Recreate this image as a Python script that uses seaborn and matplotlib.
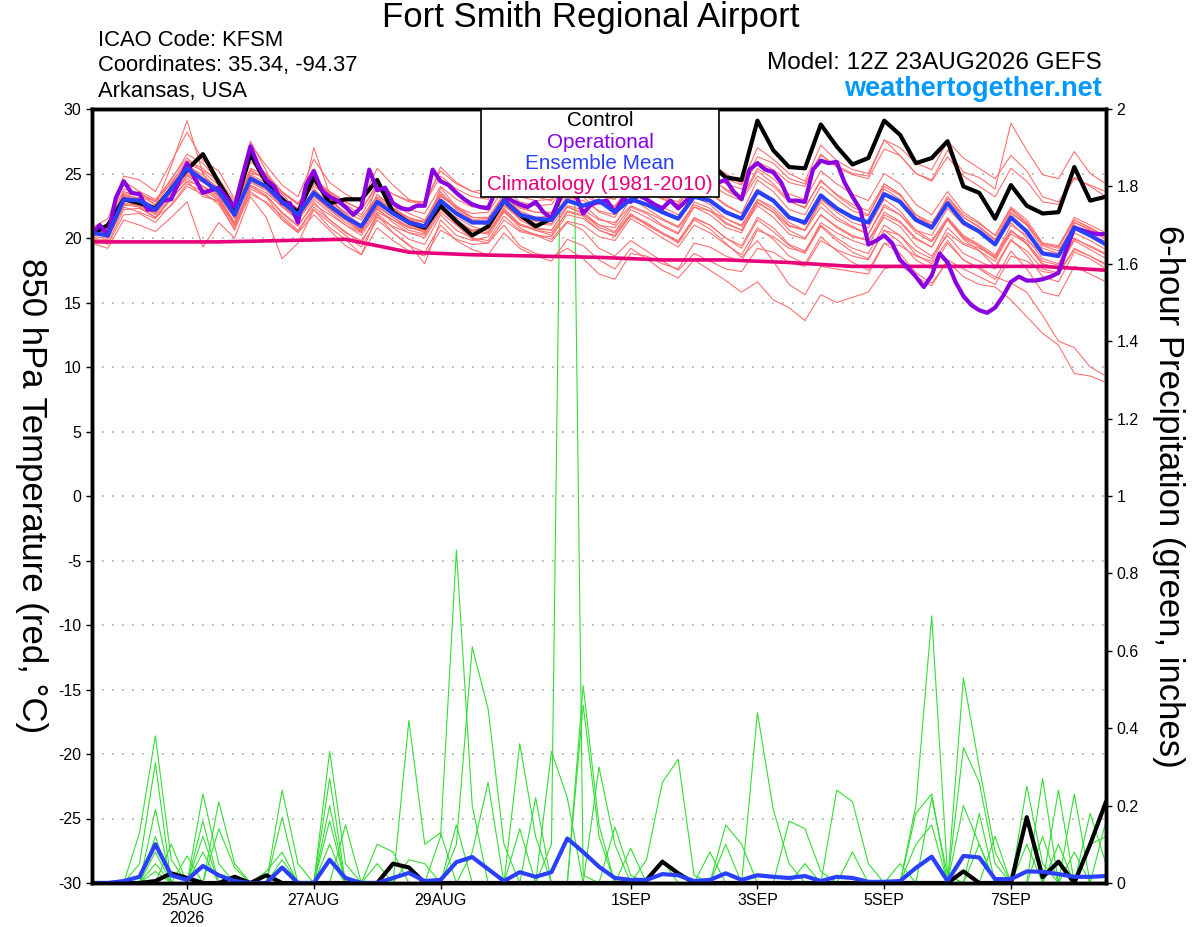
import numpy as np
import pandas as pd
import matplotlib
matplotlib.use('Agg')
import matplotlib.pyplot as plt
import seaborn as sns
from matplotlib.patches import Rectangle

# GEFS 12Z 23AUG2026, 6-hourly steps out to 384 h
run_start = pd.Timestamp('2026-08-23 12:00')

# ensemble mean 850 hPa temperature (C)
mean_temp = [
    20.4, 20.2, 23.0, 22.9, 22.2, 23.8, 25.4, 24.5,
    23.6, 21.8, 24.6, 24.0, 22.8, 21.8, 23.5, 22.5,
    21.6, 20.9, 22.8, 21.9, 21.2, 20.9, 22.9, 21.9,
    21.2, 21.2, 22.9, 21.8, 21.5, 21.4, 22.9, 22.5,
    22.9, 22.0, 23.0, 22.6, 22.0, 21.5, 23.2, 22.9,
    22.0, 21.5, 23.6, 22.9, 21.6, 21.2, 23.3, 22.3,
    21.6, 21.2, 23.4, 22.8, 21.4, 20.8, 22.7, 21.2,
    20.5, 19.5, 21.6, 20.5, 18.8, 18.6, 20.8, 20.2,
    19.5]

control_temp = [
    20.3, 21.0, 23.0, 22.7, 22.3, 23.8, 25.3, 26.5,
    24.3, 22.3, 26.5, 24.3, 23.0, 22.0, 24.7, 22.7,
    23.0, 23.0, 24.5, 22.0, 21.2, 20.8, 22.5, 21.3,
    20.2, 20.9, 22.9, 21.8, 20.9, 21.5, 24.5, 25.5,
    24.0, 25.0, 26.0, 24.8, 25.5, 26.5, 25.0, 25.8,
    24.7, 24.5, 29.1, 26.8, 25.5, 25.4, 28.8, 27.1,
    25.7, 26.2, 29.1, 28.0, 25.8, 26.2, 27.5, 24.0,
    23.5, 21.5, 24.1, 22.5, 21.9, 22.0, 25.5, 22.9,
    23.2]

# operational GFS is 3-hourly
oper_temp = [
    20.4, 21.0, 20.2, 23.1, 24.4, 23.5, 23.4, 22.2,
    22.2, 22.9, 23.0, 24.4, 25.8, 24.6, 23.5, 23.7,
    23.9, 23.1, 22.4, 24.8, 27.1, 25.6, 24.5, 24.0,
    22.7, 22.7, 21.2, 24.1, 25.2, 23.7, 23.2, 22.9,
    22.4, 21.8, 22.4, 25.3, 23.7, 23.9, 22.7, 22.3,
    22.2, 22.5, 22.5, 25.3, 24.4, 24.1, 23.5, 23.0,
    22.6, 22.4, 22.3, 23.7, 23.2, 22.9, 22.6, 22.4,
    22.8, 22.0, 21.5, 23.1, 23.8, 23.5, 21.9, 22.6,
    22.8, 22.9, 22.0, 23.0, 22.8, 23.3, 23.0, 22.6,
    22.3, 22.9, 22.3, 22.9, 23.6, 24.0, 24.2, 24.3,
    24.5, 23.6, 23.0, 25.3, 25.8, 25.3, 25.1, 24.3,
    22.9, 22.9, 22.8, 25.3, 26.0, 25.8, 25.9, 24.3,
    23.2, 22.2, 19.5, 19.8, 20.2, 19.6, 18.3, 17.7,
    17.0, 16.2, 17.1, 18.8, 18.1, 16.6, 15.5, 14.8,
    14.4, 14.2, 14.6, 15.5, 16.6, 17.0, 16.7, 16.7,
    16.8, 17.0, 17.3, 19.1, 20.8, 20.6, 20.4, 20.3,
    20.3]

# daily climatology (1981-2010)
clim_temp = [19.7, 19.7, 19.7, 19.8, 19.9, 18.9, 18.7, 18.6, 18.5,
             18.3, 18.3, 18.1, 17.8, 17.8, 17.8, 17.8, 17.5]

# 20 perturbed members, 850 hPa temperature
ens_temp = [
    [20.8, 21.5, 24.8, 24.5, 23.6, 25.9, 28.2, 26.0, 25.2, 23.0, 27.3, 25.6, 24.1, 23.2, 26.1, 24.3,
     23.4, 22.8, 25.4, 24.1, 23.0, 22.5, 25.5, 24.3, 23.6, 23.3, 25.7, 24.6, 23.9, 23.8, 25.6, 25.0,
     24.6, 24.0, 26.3, 25.4, 24.8, 24.0, 26.5, 25.8, 25.0, 24.2, 27.0, 26.1, 25.0, 24.4, 27.2, 26.0,
     25.3, 25.0, 27.6, 26.4, 25.0, 24.5, 26.8, 25.1, 24.7, 23.8, 28.9, 26.8, 24.9, 24.6, 26.7, 25.0, 24.2],
    [19.8, 19.9, 22.4, 22.0, 21.5, 23.1, 24.4, 23.2, 22.9, 20.9, 24.0, 23.3, 21.9, 20.9, 22.8, 21.4,
     20.5, 19.6, 21.9, 20.8, 19.9, 19.5, 21.8, 20.6, 20.0, 19.8, 21.7, 20.6, 20.3, 19.9, 21.3, 21.0,
     20.1, 19.8, 21.5, 20.8, 20.0, 19.3, 21.0, 20.4, 19.5, 18.7, 20.8, 19.9, 18.6, 18.0, 20.1, 19.0,
     18.1, 17.5, 19.6, 18.8, 17.3, 16.5, 18.2, 17.0, 16.4, 16.2, 15.2, 13.9, 12.6, 11.7, 9.5, 9.3, 8.8],
    [20.9, 20.5, 23.5, 23.4, 22.8, 24.6, 26.2, 25.1, 24.1, 22.3, 25.3, 24.6, 23.4, 22.1, 24.2, 23.0,
     21.9, 21.0, 23.4, 22.3, 21.5, 21.3, 23.6, 22.2, 21.3, 21.0, 22.8, 21.4, 20.8, 20.6, 22.4, 21.9,
     20.8, 20.4, 21.9, 21.0, 20.3, 19.7, 21.6, 21.0, 20.0, 19.2, 21.4, 20.5, 19.4, 18.8, 20.9, 19.8,
     18.9, 18.4, 20.6, 19.7, 18.3, 17.6, 19.6, 18.3, 17.7, 17.0, 16.5, 15.8, 14.0, 12.0, 11.5, 10.0, 9.3],
    [20.1, 19.6, 22.2, 22.3, 21.6, 22.5, 24.0, 23.4, 22.8, 20.6, 23.8, 23.2, 21.5, 20.5, 22.2, 21.2,
     20.2, 19.3, 21.4, 20.4, 19.4, 18.9, 21.0, 19.8, 19.1, 18.7, 20.4, 19.2, 18.6, 18.2, 19.9, 19.4,
     18.3, 17.6, 19.2, 18.4, 17.5, 16.9, 18.3, 17.5, 16.7, 15.8, 16.6, 15.2, 14.6, 13.6, 15.6, 15.0,
     15.4, 15.8, 17.6, 17.9, 17.0, 16.3, 18.3, 17.6, 17.0, 16.4, 18.6, 18.2, 17.4, 17.2, 19.1, 18.6, 17.9],
    [20.6, 20.9, 23.8, 23.4, 22.9, 24.5, 26.5, 25.8, 24.4, 22.4, 25.9, 25.0, 23.6, 22.7, 24.4, 23.5,
     22.6, 21.8, 23.8, 22.8, 22.2, 21.9, 24.0, 23.0, 22.4, 22.5, 24.3, 23.2, 22.9, 23.0, 24.8, 24.5,
     23.6, 23.4, 25.2, 24.8, 24.2, 23.8, 25.7, 25.4, 24.6, 24.1, 26.3, 25.8, 24.6, 24.2, 26.5, 25.5,
     24.9, 24.6, 26.9, 26.4, 25.0, 24.4, 26.3, 24.8, 24.0, 23.2, 25.4, 24.4, 22.8, 22.6, 24.6, 24.1, 23.6],
    [20.3, 20.7, 24.4, 23.6, 22.5, 25.6, 29.1, 25.0, 23.1, 21.0, 27.5, 25.2, 22.7, 21.3, 27.0, 23.4,
     21.6, 20.4, 24.3, 22.6, 21.0, 20.6, 23.9, 22.4, 21.4, 21.2, 23.5, 22.0, 21.3, 21.1, 23.4, 22.6,
     21.5, 21.0, 23.1, 22.3, 21.5, 20.9, 22.6, 22.1, 21.1, 20.6, 22.5, 21.6, 20.3, 19.9, 21.8, 20.9,
     20.2, 19.8, 22.0, 21.3, 20.0, 19.3, 21.5, 20.1, 19.4, 18.5, 20.3, 19.6, 18.2, 17.9, 20.0, 19.3, 18.7],
    [19.6, 19.2, 21.4, 21.0, 20.5, 21.6, 22.8, 19.3, 21.2, 20.0, 23.2, 21.6, 18.4, 19.6, 22.2, 20.8,
     19.9, 18.7, 21.8, 20.4, 19.5, 18.0, 21.4, 20.2, 19.8, 20.1, 22.0, 21.0, 20.6, 20.2, 22.1, 21.8,
     21.0, 20.8, 22.4, 21.9, 21.0, 20.4, 22.8, 22.3, 21.2, 20.6, 23.0, 22.4, 21.2, 20.6, 22.8, 21.6,
     20.9, 20.3, 22.6, 21.8, 20.4, 19.7, 21.4, 19.9, 19.0, 17.8, 19.9, 18.7, 17.0, 16.6, 18.9, 18.4, 17.6],
    [20.9, 20.0, 23.2, 23.6, 23.0, 24.2, 25.8, 25.2, 24.6, 22.8, 25.0, 24.8, 23.5, 22.6, 24.0, 23.2,
     22.4, 21.6, 23.2, 22.6, 21.9, 21.4, 23.4, 22.5, 21.6, 21.5, 23.1, 22.1, 21.6, 21.7, 23.6, 23.2,
     22.0, 21.6, 23.6, 23.0, 22.2, 21.4, 23.8, 23.5, 22.6, 21.9, 24.5, 23.6, 22.2, 21.8, 24.0, 23.0,
     22.1, 21.7, 24.2, 23.4, 21.6, 20.7, 22.8, 21.2, 20.4, 19.6, 21.2, 20.0, 18.4, 18.0, 20.4, 19.8, 19.1],
    [20.2, 20.3, 22.7, 22.5, 21.9, 23.6, 25.0, 24.3, 23.5, 21.6, 24.4, 23.8, 22.6, 21.6, 23.3, 22.2,
     21.4, 20.6, 22.4, 21.6, 20.9, 20.4, 22.5, 21.2, 20.5, 20.3, 22.1, 20.8, 20.2, 19.7, 21.2, 20.6,
     19.2, 18.6, 19.8, 19.0, 18.2, 17.5, 18.8, 18.2, 17.6, 17.4, 19.2, 18.9, 18.1, 17.8, 19.8, 19.1,
     18.6, 18.3, 20.6, 20.2, 19.0, 18.4, 20.8, 19.6, 19.2, 18.6, 21.0, 20.2, 18.9, 18.8, 21.2, 20.7, 20.2],
    [20.5, 20.6, 23.3, 23.1, 22.4, 24.0, 25.7, 24.7, 23.9, 22.2, 25.2, 24.5, 23.1, 22.3, 24.3, 23.6,
     22.8, 22.2, 24.0, 23.4, 22.8, 22.7, 24.8, 23.8, 23.2, 23.0, 24.8, 23.7, 23.2, 22.9, 24.6, 24.4,
     23.4, 23.0, 24.6, 23.9, 23.1, 22.6, 24.1, 23.5, 22.5, 21.9, 23.8, 23.0, 21.6, 21.0, 23.0, 22.0,
     21.2, 20.8, 23.0, 22.1, 20.6, 19.8, 21.6, 20.2, 19.5, 18.7, 20.6, 19.5, 17.9, 17.6, 19.8, 19.1, 18.4],
    [20.0, 19.5, 21.8, 21.9, 21.2, 22.6, 24.2, 23.6, 22.6, 20.7, 23.4, 22.8, 21.7, 20.6, 22.4, 21.4,
     20.4, 19.8, 21.6, 20.9, 20.4, 20.0, 22.0, 21.0, 20.6, 20.8, 22.6, 21.5, 21.1, 21.0, 22.5, 22.2,
     21.4, 21.2, 22.5, 22.0, 21.4, 20.8, 22.4, 22.1, 21.5, 21.0, 23.0, 22.2, 21.0, 20.6, 22.4, 21.4,
     20.8, 20.3, 22.4, 21.8, 20.6, 20.2, 22.3, 21.0, 20.4, 19.6, 21.9, 21.0, 19.6, 19.4, 21.4, 20.8, 20.1],
    [20.7, 20.4, 23.1, 22.8, 22.0, 23.7, 25.2, 24.4, 23.3, 21.5, 24.3, 23.7, 22.5, 21.5, 23.2, 22.2,
     21.2, 20.5, 22.6, 21.9, 21.4, 21.2, 23.2, 22.4, 21.9, 22.0, 23.8, 22.8, 22.5, 22.6, 24.3, 24.0,
     23.2, 23.0, 24.8, 24.3, 23.6, 23.2, 25.2, 24.9, 24.2, 23.8, 25.9, 25.3, 24.3, 24.0, 26.4, 25.6,
     25.0, 24.8, 27.6, 27.0, 25.8, 25.3, 27.5, 26.2, 25.4, 24.6, 26.4, 25.2, 23.2, 22.8, 24.7, 24.0, 23.2],
    [20.4, 20.1, 22.9, 22.6, 21.8, 23.4, 24.6, 23.8, 22.9, 21.2, 24.8, 24.1, 22.9, 21.9, 23.8, 22.6,
     21.6, 20.7, 22.3, 21.2, 20.4, 20.2, 22.2, 21.2, 20.6, 20.7, 22.5, 21.5, 21.3, 21.4, 23.1, 22.9,
     22.1, 21.8, 23.6, 23.0, 22.4, 21.8, 23.2, 22.6, 21.5, 20.9, 22.7, 22.0, 20.6, 20.0, 21.8, 20.8,
     20.1, 19.8, 21.6, 20.9, 19.4, 18.6, 20.2, 18.8, 18.2, 17.6, 19.8, 19.0, 17.6, 17.3, 19.2, 18.6, 18.0],
    [20.3, 20.8, 23.0, 22.4, 21.6, 23.2, 24.9, 24.0, 23.0, 21.0, 23.6, 22.7, 21.4, 20.4, 21.8, 20.6,
     19.4, 18.7, 20.8, 19.8, 19.0, 18.6, 20.6, 19.9, 19.5, 19.6, 21.4, 20.5, 20.2, 20.1, 21.8, 21.5,
     20.6, 20.2, 21.8, 21.2, 20.4, 19.6, 21.4, 20.7, 19.6, 18.5, 19.8, 18.2, 16.4, 15.6, 17.8, 17.6,
     17.4, 17.2, 19.6, 19.4, 18.6, 18.2, 20.4, 19.5, 19.0, 18.2, 20.5, 19.8, 18.8, 18.6, 20.9, 20.3, 19.7],
    [20.6, 20.4, 23.6, 23.3, 22.6, 24.3, 26.0, 25.4, 24.3, 22.4, 25.4, 24.9, 23.6, 22.6, 24.6, 23.6,
     22.8, 22.2, 24.2, 23.4, 22.9, 22.8, 25.2, 24.2, 23.6, 23.8, 26.0, 24.8, 24.2, 24.0, 26.3, 25.5,
     24.1, 23.5, 25.8, 25.0, 24.0, 23.2, 25.4, 24.8, 23.7, 23.0, 25.2, 24.2, 22.9, 22.3, 24.5, 23.3,
     22.4, 21.8, 24.0, 23.3, 21.8, 21.0, 23.2, 21.6, 20.8, 19.8, 22.0, 21.0, 19.2, 18.8, 21.2, 20.6, 19.9],
    [20.1, 20.0, 22.5, 22.7, 22.3, 23.3, 24.8, 24.0, 23.4, 21.9, 24.1, 23.5, 22.4, 21.4, 23.0, 22.0,
     21.0, 20.2, 22.0, 21.4, 20.6, 20.3, 22.4, 21.6, 20.9, 20.5, 22.3, 21.1, 20.7, 20.6, 22.4, 22.0,
     21.0, 20.5, 22.2, 21.6, 20.9, 20.3, 22.4, 21.8, 20.8, 20.4, 22.8, 22.0, 20.9, 20.6, 23.0, 22.2,
     21.6, 21.2, 23.8, 23.0, 21.6, 21.0, 23.2, 21.8, 21.1, 20.2, 22.4, 21.4, 19.6, 19.3, 21.6, 21.0, 20.4],
    [20.5, 20.3, 22.8, 22.9, 22.4, 23.6, 25.1, 24.6, 23.7, 22.0, 24.7, 24.1, 23.0, 22.1, 23.6, 22.8,
     22.0, 21.4, 23.0, 22.2, 21.4, 21.0, 22.6, 21.0, 19.9, 19.6, 21.0, 19.4, 18.8, 18.5, 19.2, 18.4,
     17.2, 16.8, 18.8, 18.6, 18.0, 17.6, 19.6, 19.3, 18.6, 18.2, 20.6, 20.1, 19.2, 18.9, 21.2, 20.4,
     19.8, 19.4, 21.8, 21.2, 19.9, 19.3, 21.4, 20.0, 19.3, 18.4, 20.6, 19.6, 18.0, 17.7, 19.9, 19.4, 18.8],
    [20.2, 20.6, 23.4, 23.0, 22.1, 24.1, 25.6, 24.9, 23.8, 21.9, 24.9, 24.3, 23.2, 22.1, 23.7, 22.7,
     21.8, 21.0, 23.1, 22.3, 21.6, 21.2, 23.3, 22.3, 21.6, 21.6, 23.4, 22.4, 22.0, 21.9, 23.6, 23.4,
     22.6, 22.4, 24.2, 23.8, 23.2, 22.8, 24.8, 24.6, 23.8, 23.2, 25.4, 24.6, 23.4, 23.0, 25.2, 24.2,
     23.4, 22.9, 25.0, 24.2, 22.6, 21.8, 23.6, 22.0, 21.2, 20.2, 22.3, 21.2, 19.4, 19.0, 21.0, 20.3, 19.6],
    [20.4, 20.2, 22.6, 22.4, 21.6, 23.0, 24.4, 24.0, 23.2, 21.2, 24.0, 23.3, 22.0, 21.0, 22.6, 21.8,
     21.0, 20.4, 22.2, 21.4, 20.8, 20.6, 22.8, 22.0, 21.4, 21.4, 23.2, 22.3, 22.0, 22.0, 23.8, 23.6,
     22.7, 22.5, 24.0, 23.6, 23.0, 22.6, 24.4, 24.2, 23.4, 22.9, 24.8, 24.0, 22.8, 22.4, 24.4, 23.4,
     22.6, 22.1, 24.2, 23.4, 21.8, 21.2, 23.0, 21.6, 20.9, 19.9, 22.2, 21.1, 19.5, 19.2, 21.4, 20.8, 20.1],
    [20.8, 20.4, 23.2, 23.0, 22.2, 23.9, 25.3, 24.6, 23.7, 21.7, 24.5, 23.9, 22.7, 21.6, 23.3, 22.3,
     21.4, 20.6, 22.5, 21.6, 20.8, 20.5, 22.4, 21.4, 20.6, 20.4, 22.2, 21.0, 20.6, 20.4, 22.0, 21.7,
     20.6, 20.1, 21.7, 21.1, 20.4, 19.8, 21.5, 21.0, 20.0, 19.4, 21.6, 20.8, 19.5, 19.0, 21.0, 20.0,
     19.2, 18.8, 21.0, 20.2, 18.7, 18.0, 19.8, 18.3, 17.6, 16.8, 19.0, 17.6, 15.8, 15.5, 17.8, 17.2, 16.6],
]

# 6-hour precipitation (inches)
mean_precip = [
    0, 0, .005, .016, .10, .02, .008, .044,
    .02, .005, 0, 0, .04, 0, 0, .06,
    .013, 0, 0, .013, .026, .005, .008, .054,
    .067, .036, .005, .028, .016, .028, .115, .08,
    .042, .013, .008, .008, .023, .02, .005, .008,
    .025, .008, .02, .016, .013, .018, .005, .016,
    .013, .003, .003, .005, .039, .068, .005, .07,
    .066, .01, .01, .03, .029, .023, .016, .016,
    .018]

control_precip = [
    0, 0, 0, 0, .005, .025, .013, 0,
    0, .016, 0, .02, 0, 0, 0, 0,
    0, 0, 0, .05, .04, 0, 0, 0,
    0, 0, 0, 0, 0, 0, 0, 0,
    0, 0, 0, .008, .055, .025, 0, 0,
    0, 0, 0, 0, 0, 0, 0, 0,
    0, 0, 0, 0, 0, 0, 0, .03,
    0, 0, 0, .17, .015, .055, 0, .1,
    .21]

Z8 = [0, 0, 0, 0, 0, 0, 0, 0]
ens_precip = [
    [0, 0, 0, .13, .38, .06, 0, 0] + [0, 0, 0, 0, .06, 0, 0, 0] + Z8 + Z8 + Z8 + Z8
    + [0, 0, 0, 0, 0, .22, .02, 0] + Z8 + [0],
    [0, 0, 0, .05, .31, 0, 0, .12] + [0, 0, 0, 0, 0, 0, 0, .34] + [.05, 0, 0, 0, 0, 0, 0, 0] + Z8 + Z8 + Z8
    + [0, 0, 0, 0, 0, 0, 0, .35] + [.26, .05, 0, 0, 0, 0, 0, 0] + [0],
    [0, 0, 0, 0, .19, 0, 0, .23] + [.05, 0, 0, 0, 0, 0, 0, 0] + [0, 0, .05, 0, 0, 0, 0, 0]
    + [0, 0, 0, .14, 0, 0, 0, 0] + Z8 + Z8 + [0, 0, 0, 0, 0, 0, 0, .2] + [.1, 0, 0, 0, 0, 0, 0, 0] + [0],
    [0, 0, 0, 0, .12, 0, 0, 0] + [0, 0, 0, 0, .24, .05, 0, 0] + [0, 0, 0, 0, 0, 0, 0, .15] + Z8 + Z8
    + [0, 0, 0, 0, 0, .05, 0, 0] + [.08, 0, 0, 0, 0, 0, 0, 0] + [0, .12, 0, 0, 0, 0, 0, 0] + [0],
    [0, 0, 0, 0, .08, 0, 0, .16] + [0, 0, 0, 0, 0, 0, 0, .2] + Z8 + [0, 0, 0, 0, .22, 0, 0, 0] + Z8 + Z8
    + [0, 0, 0, .05, 0, 0, 0, 0] + [0, 0, 0, .25, .05, 0, 0, 0] + [0],
    [0, 0, 0, 0, .05, 0, 0, 0] + [.14, .04, 0, 0, 0, 0, 0, 0] + Z8 + [0, 0, 0, 0, 0, .34, .22, 0]
    + Z8 + Z8 + Z8 + [0, 0, 0, 0, .27, 0, 0, 0] + [0],
    [0, 0, 0, 0, .03, 0, 0, 0] + [0, 0, 0, 0, .17, 0, 0, 0] + Z8 + [0, 0, 0, 0, 0, .1, 3.3, .02]
    + Z8 + Z8 + Z8 + [0, 0, 0, 0, 0, .24, 0, 0] + [0],
    [0, 0, 0, 0, 0, .1, 0, 0] + [0, 0, 0, 0, 0, 0, 0, .27] + Z8 + [0, 0, 0, 0, 0, 0, 0, .51]
    + [.15, 0, 0, 0, 0, 0, 0, 0] + Z8 + Z8 + [0, 0, 0, 0, 0, 0, .23, 0] + [0],
    [0, 0, 0, 0, 0, 0, .07, 0] + [0, 0, 0, 0, 0, 0, 0, .06] + Z8 + [0, 0, 0, 0, 0, 0, 0, .46]
    + [.12, 0, 0, 0, 0, 0, 0, 0] + Z8 + Z8 + [0, 0, 0, 0, 0, 0, 0, .18] + [.05],
    [0, 0, 0, 0, 0, 0, 0, .08] + Z8 + [.15, 0, 0, 0, 0, 0, 0, 0] + Z8
    + [.3, .1, 0, 0, 0, 0, 0, 0] + Z8 + Z8 + Z8 + [.16],
    Z8 + [.21, .05, 0, 0, 0, 0, 0, 0] + Z8 + Z8 + [0, .145, .02, 0, 0, 0, 0, 0] + Z8 + Z8
    + [.18, 0, 0, 0, .12, 0, 0, 0] + [0],
    Z8 + [0, 0, 0, .03, .08, 0, 0, 0] + Z8 + Z8 + [0, 0, .09, 0, 0, 0, 0, .08] + Z8 + Z8
    + [0, 0, 0, .1, 0, 0, .08, 0] + [0],
    Z8 + [0, 0, 0, 0, 0, 0, 0, .16] + Z8 + Z8 + [0, 0, 0, .06, .26, .32, .02, 0]
    + [.1, 0, 0, 0, 0, 0, 0, 0] + Z8 + Z8 + [0],
    Z8 + [0, 0, 0, 0, 0, 0, 0, .1] + Z8 + Z8 + [0, 0, 0, 0, .06, 0, 0, 0]
    + [.15, .1, 0, 0, 0, 0, 0, 0] + [0, 0, 0, 0, .1, .15, 0, 0] + Z8 + [0],
    Z8 + Z8 + [0, 0, .1, .08, 0, 0, 0, 0] + Z8 + Z8 + [0, 0, .44, .19, .05, 0, 0, 0] + Z8 + Z8 + [0],
    Z8 + Z8 + [0, 0, 0, 0, .42, .1, .13, 0] + Z8 + Z8 + [0, 0, 0, 0, .16, .14, .03, 0] + Z8
    + [0, 0, 0, 0, 0, .1, 0, 0] + [0],
    Z8 + Z8 + [0, 0, 0, 0, .06, .05, 0, 0] + Z8 + Z8 + [0, 0, 0, 0, 0, 0, 0, .24]
    + [.21, .05, 0, 0, 0, 0, 0, 0] + Z8 + [0],
    Z8 + Z8 + [0, 0, 0, 0, 0, 0, .12, .86] + [.2, 0, 0, 0, 0, 0, 0, 0] + Z8 + Z8
    + [0, 0, 0, 0, .18, .23, 0, 0] + Z8 + [0],
    Z8 + Z8 + [0, 0, 0, 0, 0, 0, 0, .1] + [.61, .45, .1, 0, 0, 0, 0, 0] + Z8 + Z8
    + [0, 0, 0, 0, .2, .69, .02, 0] + [.1, 0, 0, 0, 0, 0, 0, 0] + [0],
    Z8 + Z8 + Z8 + [.08, .26, 0, .36, .12, 0, 0, 0] + Z8 + Z8
    + [0, 0, 0, 0, 0, 0, 0, .53] + [.3, .08, 0, 0, 0, 0, 0, .1] + [.12],
]

tick_dates = ['2026-08-25', '2026-08-27', '2026-08-29', '2026-09-01',
              '2026-09-03', '2026-09-05', '2026-09-07']
tick_labels = ['25AUG\n2026', '27AUG', '29AUG', '1SEP', '3SEP', '5SEP', '7SEP']

legend_items = [('Control', 'black'), ('Operational', '#8a00e0'),
                ('Ensemble Mean', '#2a40ff'), ('Climatology (1981-2010)', '#e8007a')]

# ---------------------------------------------------------------
sns.set_style('ticks')
plt.rcParams['font.family'] = ['Liberation Sans', 'DejaVu Sans']
plt.rcParams['axes.unicode_minus'] = False
plt.rcParams['text.color'] = 'black'

times = pd.date_range(run_start, periods=len(mean_temp), freq='6h')
oper_times = pd.date_range(run_start, periods=len(oper_temp), freq='3h')
clim_times = pd.date_range(run_start, periods=len(clim_temp), freq='24h')
n_mem = len(ens_temp)

df_t = pd.DataFrame({'time': np.tile(times, n_mem),
                     'temp': np.concatenate(ens_temp),
                     'member': np.repeat(np.arange(n_mem), len(times))})
df_p = pd.DataFrame({'time': np.tile(times, n_mem),
                     'precip': np.concatenate(ens_precip),
                     'member': np.repeat(np.arange(n_mem), len(times))})

W, H = 1200, 927
fig = plt.figure(figsize=(12, 9.27), dpi=100)
ax1 = fig.add_axes([92 / W, 1 - 883 / H, (1106 - 92) / W, (883 - 109) / H])
ax2 = ax1.twinx()
ax1.set_zorder(ax2.get_zorder() + 1)
ax1.patch.set_visible(False)

# precipitation on the right axis
sns.lineplot(data=df_p, x='time', y='precip', units='member', estimator=None,
             color='#33dd33', lw=0.8, ax=ax2)
sns.lineplot(x=times, y=control_precip, color='black', lw=3, ax=ax2)
sns.lineplot(x=times, y=mean_precip, color='#2a40ff', lw=3, ax=ax2)

# temperature on the left axis
sns.lineplot(data=df_t, x='time', y='temp', units='member', estimator=None,
             color='#ff6a6a', lw=0.75, ax=ax1)
sns.lineplot(x=clim_times, y=clim_temp, color='#e8007a', lw=2.6, ax=ax1)
sns.lineplot(x=times, y=control_temp, color='black', lw=3, ax=ax1)
sns.lineplot(x=oper_times, y=oper_temp, color='#8a00e0', lw=3, ax=ax1)
sns.lineplot(x=times, y=mean_temp, color='#2a40ff', lw=3, ax=ax1)

ax1.set_xlim(times[0], times[-1])
ax1.set_ylim(-30, 30)
ax2.set_ylim(0, 2)
ax1.set_yticks(np.arange(-30, 31, 5))
ax2.set_yticks(np.arange(0, 2.01, 0.2))
ax2.set_yticklabels([f'{v:g}' for v in np.round(np.arange(0, 2.01, 0.2), 1)])
ax1.set_xticks(pd.to_datetime(tick_dates))
ax1.set_xticklabels(tick_labels)
for ax in (ax1, ax2):
    ax.set_xlabel('')
    ax.set_ylabel('')
    ax.tick_params(direction='out', length=4, width=1, labelsize=11.5, colors='black')
    for sp in ax.spines.values():
        sp.set_visible(True)
        sp.set_linewidth(2.5)
        sp.set_color('black')
ax1.grid(axis='y', ls=(0, (1, 5)), color='#aaaaaa', lw=1.2)
ax1.grid(axis='x', visible=False)
ax2.grid(False)

# header texts
def ftext(x, y, s, **kw):
    fig.text(x / W, 1 - y / H, s, **kw)

ftext(591, 18, 'Fort Smith Regional Airport', ha='center', va='center', fontsize=25)
ftext(98, 40, 'ICAO Code: KFSM', ha='left', va='center', fontsize=15.8)
ftext(98, 66, 'Coordinates: 35.34, -94.37', ha='left', va='center', fontsize=15.8)
ftext(98, 92, 'Arkansas, USA', ha='left', va='center', fontsize=15.8)
ftext(1102, 63, 'Model: 12Z 23AUG2026 GEFS', ha='right', va='center', fontsize=17.5)
ftext(1102, 89, 'weathertogether.net', ha='right', va='center', fontsize=19.5,
      fontweight='bold', color='#0099ff')
ftext(31, 496, '850 hPa Temperature (red, \u00b0C)', ha='center', va='center',
      rotation=270, fontsize=25)
ftext(1168, 496, '6-hour Precipitation (green, inches)', ha='center', va='center',
      rotation=270, fontsize=25)

# legend box drawn over the plot
box = Rectangle((481 / W, 1 - 197 / H), 238 / W, 88 / H, transform=fig.transFigure,
                facecolor='white', edgecolor='black', lw=1.2, zorder=10)
fig.add_artist(box)
for k, (label, col) in enumerate(legend_items):
    fig.text(600 / W, 1 - (121 + 21.3 * k) / H, label, ha='center', va='center',
             fontsize=14.9, color=col, zorder=11)

fig.savefig('out.png', dpi=100)
